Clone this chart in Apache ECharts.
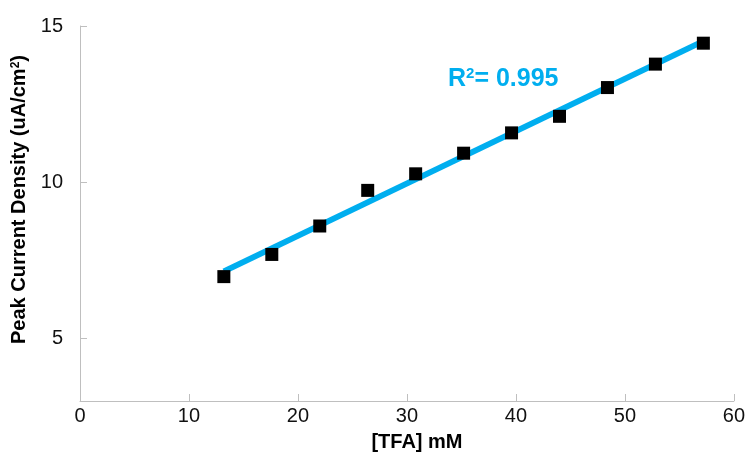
<!DOCTYPE html>
<html>
<head>
<meta charset="utf-8">
<script src="https://cdn.jsdelivr.net/npm/echarts@6/dist/echarts.min.js"></script>
<style>html,body{margin:0;padding:0;background:#fff}#c{width:748px;height:457px}</style>
</head>
<body>
<div id="c"></div>
<script>
const tfa = [13.2, 17.6, 22.0, 26.4, 30.8, 35.2, 39.6, 44.0, 48.4, 52.8, 57.2];
const density = [6.98, 7.69, 8.60, 9.74, 10.27, 10.93, 11.58, 12.11, 13.03, 13.78, 14.45];
const r2Text = '0.995';
const xTitle = '[TFA] mM';
const yTitle = 'Peak Current Density (uA/cm{sup|2})';

// least-squares trend line through the points
const n = tfa.length;
const mx = tfa.reduce((a, b) => a + b, 0) / n;
const my = density.reduce((a, b) => a + b, 0) / n;
let sxy = 0, sxx = 0;
for (let i = 0; i < n; i++) { sxy += (tfa[i] - mx) * (density[i] - my); sxx += (tfa[i] - mx) ** 2; }
const slope = sxy / sxx, icpt = my - slope * mx;
const xs = [Math.min(...tfa), Math.max(...tfa)];
const trend = xs.map(x => [x, icpt + slope * x]);

const chart = echarts.init(document.getElementById('c'));
const axisGray = '#bfbfbf';
const font = 'Liberation Sans, Arial, sans-serif';
chart.setOption({
  animation: false,
  grid: { left: 80, right: 11, top: 26, bottom: 55 },
  xAxis: {
    type: 'value', min: 0, max: 60, interval: 10,
    name: xTitle, nameLocation: 'middle', nameGap: 31,
    nameTextStyle: { fontFamily: font, fontSize: 20, fontWeight: 'bold', color: '#000', padding: [0, 0, 0, 20] },
    axisLine: { lineStyle: { color: axisGray } },
    axisTick: { inside: true, length: 7, lineStyle: { color: axisGray } },
    axisLabel: { fontFamily: font, fontSize: 20, color: '#111', margin: 5 },
    splitLine: { show: false }
  },
  yAxis: {
    type: 'value', min: 3, max: 15, interval: 5,
    axisLabel: { fontFamily: font, fontSize: 20, color: '#111', margin: 17, customValues: [5, 10, 15] },
    axisTick: { inside: true, length: 7, lineStyle: { color: axisGray }, customValues: [5, 10, 15] },
    name: yTitle, nameLocation: 'middle', nameGap: 48, nameRotate: 90,
    nameTextStyle: { fontFamily: font, fontSize: 20, fontWeight: 'bold', color: '#000',
      padding: [0, 0, 0, 28],
      rich: { sup: { fontFamily: font, fontSize: 12, fontWeight: 'bold', verticalAlign: 'top', padding: [0, 0, 9, 0] } } },
    axisLine: { show: true, lineStyle: { color: axisGray } },
    splitLine: { show: false }
  },
  series: [
    {
      type: 'line', data: trend, showSymbol: false, z: 2,
      lineStyle: { color: '#00AEEF', width: 6 }, silent: true
    },
    {
      type: 'scatter', data: tfa.map((x, i) => [x, density[i]]), z: 3,
      symbol: 'rect', symbolSize: 13, itemStyle: { color: '#000', opacity: 1 }
    }
  ],
  graphic: [{
    type: 'text', left: 448, top: 66,
    style: {
      text: '{a|R}{s|2}{a|= ' + r2Text + '}',
      rich: {
        a: { fontFamily: font, fontSize: 25, fontWeight: 'bold', fill: '#00AEEF' },
        s: { fontFamily: font, fontSize: 15, fontWeight: 'bold', fill: '#00AEEF', verticalAlign: 'top', padding: [0, 0, 11, 0] }
      }
    }
  }]
});
</script>
</body>
</html>
